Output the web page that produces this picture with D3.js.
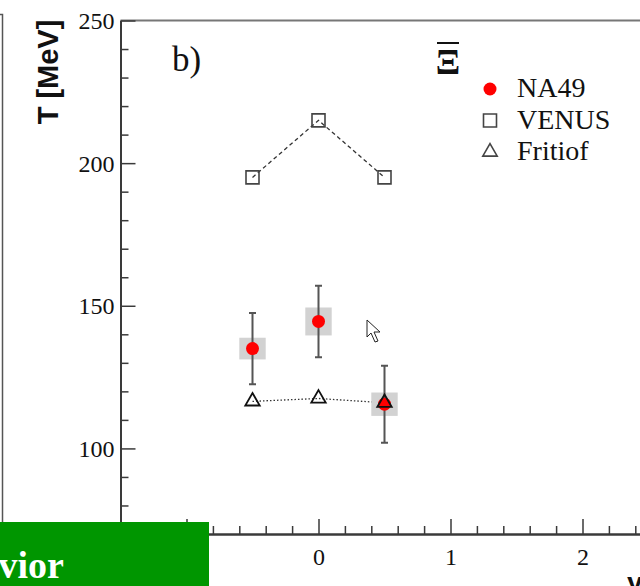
<!DOCTYPE html>
<html>
<head>
<meta charset="utf-8">
<script src="https://cdn.jsdelivr.net/npm/d3@7"></script>
<style>
  body { margin: 0; background: #fff; }
  svg { display: block; }
  .serif { font-family: "Liberation Serif", "Times New Roman", serif; }
</style>
</head>
<body>
<div id="chart"></div>
<script>
// data
var rapidity   = [-0.5, 0, 0.5];
var na49T      = [135, 144.5, 115.5];
var na49Stat   = [12.5, 12.5, 13.5];
var na49Sys    = [3.8, 4.9, 4.1];
var venusT     = [195, 215, 195];
var fritiofT   = [116.5, 117.5, 116];
var yMajor     = [100, 150, 200, 250];
var xMajor     = [-1, 0, 1, 2, 3];
var legendKeys = ["NA49", "VENUS", "Fritiof"];

var width = 640, height = 586;

var svg = d3.select("#chart").append("svg")
    .attr("width", width)
    .attr("height", height);

var x = d3.scaleLinear().domain([-1.5, 3.5]).range([120.5, 780.5]);
var y = d3.scaleLinear().domain([70, 250]).range([534, 20.5]);

var axisColor = "#3a3a3a";

// edge of the neighbouring panel
svg.append("path")
    .attr("d", "M-2,14.5H2.5V586")
    .attr("fill", "none")
    .attr("stroke", "#555")
    .attr("stroke-width", 1.5);

// top frame line
svg.append("line")
    .attr("x1", x.range()[0]).attr("x2", x.range()[1])
    .attr("y1", y(250)).attr("y2", y(250))
    .attr("stroke", "#777").attr("stroke-width", 2);

// y axis, ticks inward
var yMinor = svg.append("g")
    .attr("transform", "translate(" + x.range()[0] + ",0)")
    .call(d3.axisLeft(y)
        .tickValues(d3.range(70, 251, 10).filter(function(v) { return yMajor.indexOf(v) < 0; }))
        .tickSizeInner(-8).tickSizeOuter(0).tickFormat(""));
var yAxis = svg.append("g")
    .attr("transform", "translate(" + x.range()[0] + ",0)")
    .call(d3.axisLeft(y)
        .tickValues(yMajor)
        .tickSizeInner(-15).tickSizeOuter(0).tickPadding(6));

// x axis, ticks inward
var xMinor = svg.append("g")
    .attr("transform", "translate(0," + y.range()[0] + ")")
    .call(d3.axisBottom(x)
        .tickValues(d3.range(-1.4, 3.5, 0.2).filter(function(v) { return Math.abs(v - Math.round(v)) > 0.01; }))
        .tickSizeInner(-8).tickSizeOuter(0).tickFormat(""));
var xAxis = svg.append("g")
    .attr("transform", "translate(0," + y.range()[0] + ")")
    .call(d3.axisBottom(x)
        .tickValues(xMajor)
        .tickSizeInner(-15).tickSizeOuter(0).tickPadding(14)
        .tickFormat(d3.format("d")));

[yMinor, yAxis, xMinor, xAxis].forEach(function(g) {
    g.select(".domain").attr("stroke", axisColor).attr("stroke-width", 2);
    g.selectAll(".tick line").attr("stroke", axisColor).attr("stroke-width", 1.5);
    g.selectAll("text")
        .attr("class", "serif")
        .attr("fill", "#111")
        .style("font-size", "24px");
});
yAxis.selectAll("text").attr("dy", "0.34em");

// y title
svg.append("text")
    .attr("transform", "translate(58,72) rotate(-90)")
    .attr("text-anchor", "middle")
    .style("font-family", "'Liberation Sans', Arial, sans-serif")
    .style("font-weight", "bold")
    .style("font-size", "29px")
    .attr("fill", "#111")
    .text("T [MeV]");

// panel label
svg.append("text")
    .attr("class", "serif")
    .attr("x", 172).attr("y", 71)
    .style("font-size", "35px")
    .attr("fill", "#111")
    .text("b)");

// anti-Xi label
svg.append("text")
    .attr("class", "serif")
    .attr("x", 448).attr("y", 74)
    .attr("text-anchor", "middle")
    .style("font-size", "36px")
    .style("font-weight", "bold")
    .attr("fill", "#111")
    .text("Ξ");
svg.append("line")
    .attr("x1", 437).attr("x2", 459)
    .attr("y1", 43).attr("y2", 43)
    .attr("stroke", "#111").attr("stroke-width", 2);

var idx = d3.range(rapidity.length);

// VENUS dashed line
var lineV = d3.line()
    .x(function(i) { return x(rapidity[i]); })
    .y(function(i) { return y(venusT[i]); });
svg.append("path")
    .attr("d", lineV(idx))
    .attr("fill", "none")
    .attr("stroke", "#333")
    .attr("stroke-width", 1.3)
    .attr("stroke-dasharray", "4,3");

// Fritiof dotted line
var lineF = d3.line()
    .x(function(i) { return x(rapidity[i]); })
    .y(function(i) { return y(fritiofT[i]); });
svg.append("path")
    .attr("d", lineF(idx))
    .attr("fill", "none")
    .attr("stroke", "#333")
    .attr("stroke-width", 1.3)
    .attr("stroke-dasharray", "1.5,2");

// systematic boxes
svg.append("g").selectAll("rect")
    .data(idx).enter().append("rect")
    .attr("x", function(i) { return x(rapidity[i] - 0.1); })
    .attr("width", function(i) { return x(rapidity[i] + 0.1) - x(rapidity[i] - 0.1); })
    .attr("y", function(i) { return y(na49T[i] + na49Sys[i]); })
    .attr("height", function(i) { return y(na49T[i] - na49Sys[i]) - y(na49T[i] + na49Sys[i]); })
    .attr("fill", "#d2d2d2");

// stat error bars
var eb = svg.append("g")
    .attr("stroke", "#555")
    .attr("fill", "none");
eb.selectAll("path")
    .data(idx).enter().append("path")
    .attr("stroke-width", 2)
    .attr("d", function(i) {
        var cx = x(rapidity[i]),
            t = y(na49T[i] + na49Stat[i]),
            b = y(na49T[i] - na49Stat[i]);
        return "M" + cx + "," + t + "V" + b +
            "M" + (cx - 3.5) + "," + t + "H" + (cx + 3.5) +
            "M" + (cx - 3.5) + "," + b + "H" + (cx + 3.5);
    });

// NA49 points
svg.append("g").selectAll("circle")
    .data(idx).enter().append("circle")
    .attr("cx", function(i) { return x(rapidity[i]); })
    .attr("cy", function(i) { return y(na49T[i]); })
    .attr("r", 6.5)
    .attr("fill", "#ff0000");

// VENUS squares
var sq = d3.symbol(d3.symbolSquare, 169);
svg.append("g").selectAll("path")
    .data(idx).enter().append("path")
    .attr("d", sq)
    .attr("transform", function(i) { return "translate(" + x(rapidity[i]) + "," + y(venusT[i]) + ")"; })
    .attr("fill", "none")
    .attr("stroke", "#444")
    .attr("stroke-width", 1.6);

// Fritiof triangles
var tri = d3.symbol(d3.symbolTriangle, 90);
svg.append("g").selectAll("path")
    .data(idx).enter().append("path")
    .attr("d", tri)
    .attr("transform", function(i) { return "translate(" + x(rapidity[i]) + "," + y(fritiofT[i]) + ")"; })
    .attr("fill", "none")
    .attr("stroke", "#111")
    .attr("stroke-width", 1.8);

// legend
var legend = svg.append("g").attr("transform", "translate(490,89)");
var rows = legend.selectAll("g")
    .data(legendKeys).enter().append("g")
    .attr("transform", function(d, i) { return "translate(0," + (i * 31.5) + ")"; });
rows.append("text")
    .attr("class", "serif")
    .attr("x", 27).attr("y", 8)
    .style("font-size", "28px")
    .attr("fill", "#111")
    .text(function(d) { return d; });
rows.filter(function(d, i) { return i === 0; })
    .append("circle").attr("r", 6.5).attr("fill", "#ff0000");
rows.filter(function(d, i) { return i === 1; })
    .append("path").attr("d", sq)
    .attr("fill", "none").attr("stroke", "#444").attr("stroke-width", 1.6);
rows.filter(function(d, i) { return i === 2; })
    .append("path").attr("d", tri)
    .attr("fill", "none").attr("stroke", "#444").attr("stroke-width", 1.6);

// mouse pointer caught in the screenshot
svg.append("path")
    .attr("d", "M367,320V337L371,333L375,342L378,341L374,332L380,332Z")
    .attr("fill", "#fff")
    .attr("stroke", "#222")
    .attr("stroke-width", 1);

// x title, mostly off the page
svg.append("text")
    .attr("x", 627).attr("y", 592)
    .style("font-family", "'Liberation Sans', Arial, sans-serif")
    .style("font-weight", "bold")
    .style("font-size", "28px")
    .attr("fill", "#111")
    .text("y");

// green banner overlapping the bottom left
svg.append("rect")
    .attr("x", 0).attr("y", 522)
    .attr("width", 209).attr("height", 64)
    .attr("fill", "#009600");
svg.append("text")
    .attr("class", "serif")
    .attr("x", 64).attr("y", 578)
    .attr("text-anchor", "end")
    .style("font-size", "38px")
    .style("font-weight", "bold")
    .attr("fill", "#fff")
    .text("Behavior");
</script>
</body>
</html>
